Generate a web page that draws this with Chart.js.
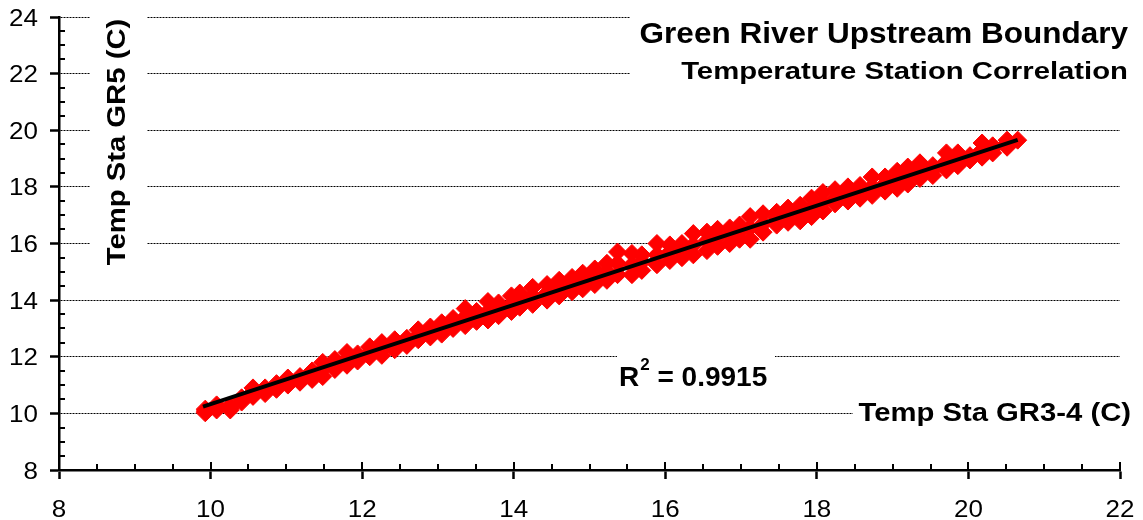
<!DOCTYPE html>
<html>
<head>
<meta charset="utf-8">
<title>Green River Upstream Boundary</title>
<script src="https://cdn.jsdelivr.net/npm/chart.js@4/dist/chart.umd.min.js"></script>
<style>
    html, body { margin: 0; padding: 0; background: #fff; }
    canvas { display: block; }
</style>
</head>
<body>
<canvas id="chart" width="1143" height="520"></canvas>
<script>
// Temp Sta GR3-4 (x) and Temp Sta GR5 (y)
const gr34 = [9.93, 10.08, 10.26, 10.41, 10.56, 10.72, 10.87, 11.02, 11.18, 11.34, 11.48, 11.64, 11.8, 11.94,
    12.1, 12.26, 12.43, 12.59, 12.74, 12.9, 13.05, 13.2, 13.36, 13.51, 13.66, 13.8, 13.97, 14.08, 14.25, 14.44,
    14.6, 14.77, 14.91, 15.07, 15.23, 15.37, 15.56, 15.69, 15.89, 16.06, 16.22, 16.37, 16.55, 16.69, 16.85,
    16.98, 17.12, 17.29, 17.47, 17.62, 17.78, 17.93, 18.08, 18.24, 18.41, 18.57, 18.73, 18.9, 19.06, 19.2,
    19.36, 19.53, 19.71, 19.86, 20.02, 20.18, 20.32, 20.51, 20.65];
const gr5High = [10.15, 10.2, 10.28, 10.55, 10.9, 10.9, 11.05, 11.25, 11.3, 11.5, 11.8, 11.9, 12.15, 12.1,
    12.35, 12.5, 12.6, 12.65, 12.95, 13.05, 13.2, 13.35, 13.7, 13.6, 13.95, 13.9, 14.15, 14.25, 14.45, 14.55,
    14.7, 14.8, 14.95, 15.1, 15.3, 15.7, 15.65, 15.6, 16.0, 15.95, 16.0, 16.35, 16.4, 16.5, 16.55,
    16.65, 16.95, 17.05, 17.1, 17.25, 17.35, 17.6, 17.8, 17.9, 18.0, 18.05, 18.35, 18.35, 18.55, 18.7,
    18.85, 18.75, 19.2, 19.2, 19.1, 19.55, 19.45, 19.65, 19.65];
const gr5Mid = [10.08, 10.3, 10.2, 10.5, 10.75, 10.85, 10.95, 11.1, 11.25, 11.4, 11.55, 11.7, 11.9, 12.0,
    12.15, 12.25, 12.4, 12.55, 12.75, 12.85, 13.0, 13.15, 13.4, 13.45, 13.6, 13.7, 13.85, 14.0, 14.15, 14.25,
    14.4, 14.55, 14.7, 14.85, 15.0, 15.3, 15.25, 15.35, 15.6, 15.7, 15.75, 15.95, 16.1, 16.2, 16.3,
    16.4, 16.55, 16.7, 16.9, 17.0, 17.1, 17.25, 17.45, 17.6, 17.75, 17.85, 18.0, 18.1, 18.25, 18.4,
    18.55, 18.6, 18.9, 19.0, 19.05, 19.3, 19.35, 19.55, null];
const gr5Low = [10.02, 10.12, 10.12, 10.4, 10.6, 10.7, 10.85, 11.0, 11.1, 11.2, 11.3, 11.55, 11.7, 11.85,
    12.0, 12.05, 12.25, 12.4, 12.6, 12.7, 12.8, 13.0, 13.1, 13.25, 13.3, 13.45, 13.6, 13.75, 13.85, 14.0,
    14.15, 14.3, 14.4, 14.55, 14.7, 14.9, 14.9, 15.05, 15.25, 15.4, 15.5, 15.6, 15.75, 15.9, 16.0,
    16.15, 16.15, 16.4, 16.65, 16.75, 16.8, 16.95, 17.15, 17.4, 17.5, 17.6, 17.7, 17.85, 17.95, 18.1,
    18.3, 18.4, 18.6, 18.75, 18.95, 19.05, 19.2, 19.4, null];

// Linear trendline end points
const trendX = [9.9, 20.65];
const trendY = [10.24, 19.66];

const rSquared = '0.9915';
const titleText = 'Green River Upstream Boundary';
const subtitleText = 'Temperature Station Correlation';
const xTitle = 'Temp Sta GR3-4 (C)';
const yTitle = 'Temp Sta GR5 (C)';

const FONT = '"Liberation Sans", Arial, Helvetica, sans-serif';

const points = [];
gr34.forEach((x, i) => {
    [gr5High[i], gr5Mid[i], gr5Low[i]].forEach(y => {
        if (y !== null) points.push({ x: x, y: y });
    });
});
const trend = trendX.map((x, i) => ({ x: x, y: trendY[i] }));

/**
 * Text drawn a little wider than the font, like the exported chart
 */
function stretchText(ctx, text, x, y, font, sx, align, rot) {
    ctx.save();
    ctx.translate(x, y);
    if (rot) ctx.rotate(rot);
    ctx.scale(sx, 1);
    ctx.font = font;
    ctx.textAlign = align;
    ctx.textBaseline = 'alphabetic';
    ctx.fillStyle = '#000';
    ctx.fillText(text, 0, 0);
    ctx.restore();
}

function whiteBox(ctx, x1, y1, x2, y2) {
    ctx.fillStyle = '#fff';
    ctx.fillRect(x1, y1, x2 - x1, y2 - y1);
}

const decorations = {
    id: 'decorations',
    beforeDatasetsDraw(chart) {
        const ctx = chart.ctx;
        const xs = chart.scales.x;
        const ys = chart.scales.y;
        const area = chart.chartArea;

        // text boxes hide the gridlines behind them
        whiteBox(ctx, 630, 0, 1130, 98);
        whiteBox(ctx, 90, 0, 147, 272);
        whiteBox(ctx, 617, 342, 775, 398);
        whiteBox(ctx, 853, 400, 1135, 432);

        // minor ticks, pointing into the plot
        ctx.save();
        ctx.strokeStyle = '#000';
        ctx.lineWidth = 2;
        ctx.beginPath();
        for (let v = xs.min; v <= xs.max + 1e-9; v += 0.5) {
            const px = Math.round(xs.getPixelForValue(v));
            const len = (v % 2 === 0) ? 8 : 6;
            ctx.moveTo(px, area.bottom);
            ctx.lineTo(px, area.bottom - len);
        }
        for (let v = ys.min; v <= ys.max + 1e-9; v += 0.5) {
            if (v % 2 === 0) continue;
            const py = Math.round(ys.getPixelForValue(v));
            ctx.moveTo(area.left, py);
            ctx.lineTo(area.left + 6, py);
        }
        ctx.stroke();
        ctx.restore();

        // tick labels
        const tickFont = '23px ' + FONT;
        xs.ticks.forEach(t => {
            stretchText(ctx, String(t.value), xs.getPixelForValue(t.value), 517, tickFont, 1.13, 'center');
        });
        ys.ticks.forEach(t => {
            stretchText(ctx, String(t.value), 38, ys.getPixelForValue(t.value) + 8.5, tickFont, 1.13, 'right');
        });

        // titles
        stretchText(ctx, titleText, 1128, 43, 'bold 30px ' + FONT, 1.05, 'right');
        stretchText(ctx, subtitleText, 1128, 79, 'bold 24px ' + FONT, 1.22, 'right');
        stretchText(ctx, xTitle, 1131, 421, 'bold 25px ' + FONT, 1.17, 'right');
        stretchText(ctx, yTitle, 125, 142, 'bold 25px ' + FONT, 1.17, 'center', -Math.PI / 2);

        // R squared with superscript
        ctx.save();
        ctx.fillStyle = '#000';
        ctx.textBaseline = 'alphabetic';
        ctx.textAlign = 'left';
        let x = 619;
        ctx.font = 'bold 28px ' + FONT;
        ctx.fillText('R', x, 386);
        x += ctx.measureText('R').width + 1;
        ctx.font = 'bold 17px ' + FONT;
        ctx.fillText('2', x, 370);
        x += ctx.measureText('2').width;
        ctx.font = 'bold 28px ' + FONT;
        ctx.fillText(' = ' + rSquared, x, 386);
        ctx.restore();
    }
};

const chart = new Chart(document.getElementById('chart').getContext('2d'), {
    type: 'scatter',
    data: {
        datasets: [{
            label: 'Linear fit',
            type: 'line',
            data: trend,
            showLine: true,
            borderColor: '#000',
            borderWidth: 4,
            pointRadius: 0,
            fill: false,
            order: 1
        }, {
            label: 'GR5 vs GR3-4',
            data: points,
            pointStyle: 'rectRot',
            pointRadius: 9,
            backgroundColor: '#ff0000',
            borderColor: '#ff0000',
            borderWidth: 1,
            order: 2
        }]
    },
    options: {
        responsive: false,
        animation: false,
        events: [],
        layout: {
            padding: { top: 17, right: 23, left: 0, bottom: 0 }
        },
        plugins: {
            legend: { display: false },
            tooltip: { enabled: false }
        },
        scales: {
            x: {
                type: 'linear',
                min: 8,
                max: 22,
                ticks: { stepSize: 2, display: false },
                grid: {
                    drawOnChartArea: false,
                    drawTicks: true,
                    tickLength: 9,
                    tickWidth: 2.5,
                    tickColor: '#000'
                },
                border: { color: '#000', width: 2.5 },
                afterFit(scale) { scale.height = 50; }
            },
            y: {
                type: 'linear',
                min: 8,
                max: 24,
                ticks: { stepSize: 2, display: false },
                grid: {
                    color: c => (c.tick && c.tick.value === 8) ? 'rgba(0,0,0,0)' : '#000',
                    lineWidth: 1,
                    drawTicks: true,
                    tickLength: 9,
                    tickWidth: 2.5,
                    tickColor: '#000'
                },
                border: { color: '#000', width: 2.5, dash: [2, 1] },
                afterFit(scale) { scale.width = 59; }
            }
        }
    },
    plugins: [decorations]
});
</script>
</body>
</html>
